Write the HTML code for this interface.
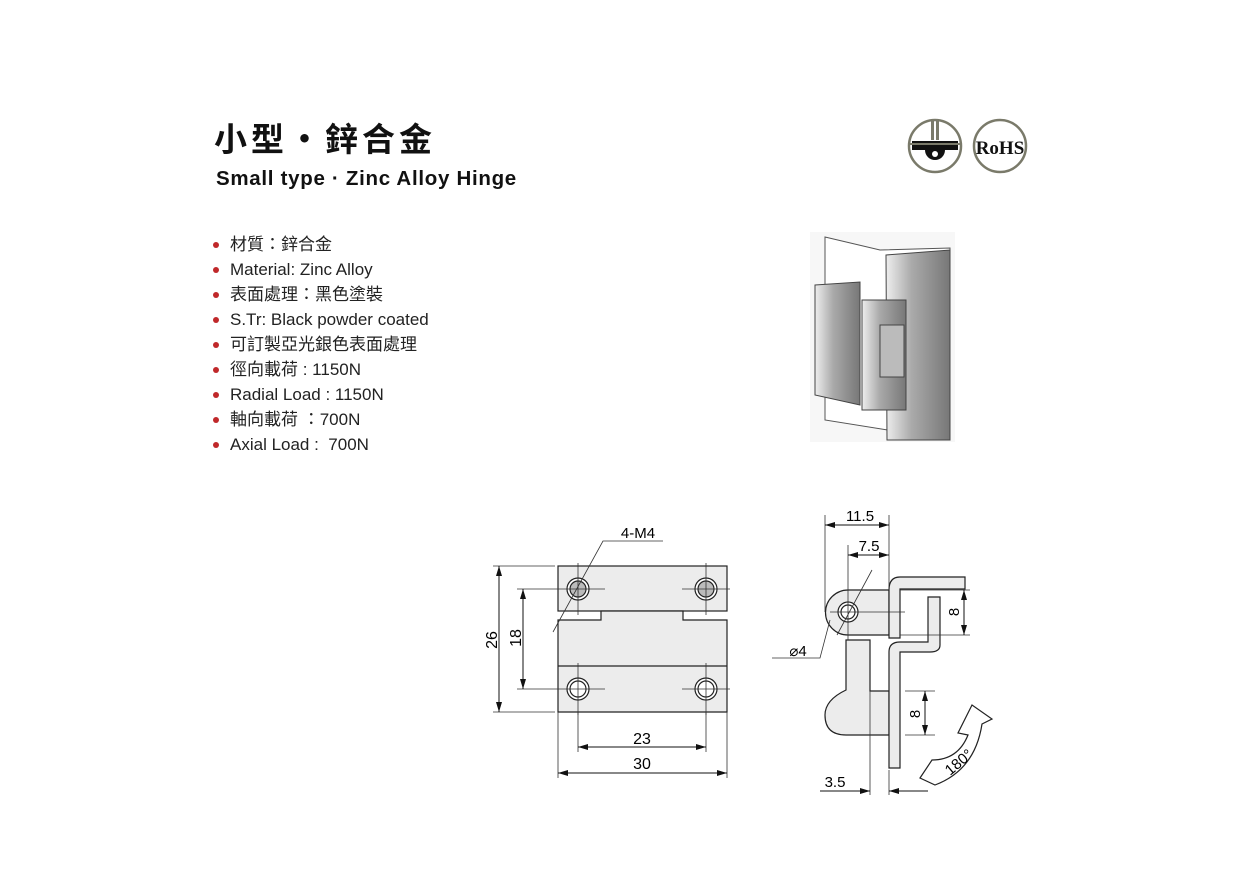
<!DOCTYPE html>
<html><head><meta charset="utf-8"><style>
body{margin:0;width:1241px;height:878px;background:#fff;position:relative;overflow:hidden;font-family:"Liberation Sans","Noto Sans CJK TC",sans-serif;}
.t1{position:absolute;left:214px;top:113px;font-size:33px;font-weight:bold;color:#111;letter-spacing:4px}
.t2{position:absolute;left:216px;top:167px;font-size:20.5px;font-weight:bold;color:#111;letter-spacing:0.7px}
ul{position:absolute;left:212px;top:232px;margin:0;padding:0;list-style:none;font-size:17px;color:#222}
li{height:25px;line-height:25px;padding-left:18px;position:relative}
li:before{content:"";position:absolute;left:1px;top:10px;width:6px;height:6px;border-radius:50%;background:#c0282a}
</style></head><body>
<div class="t1">小型・鋅合金</div>
<div class="t2">Small type · Zinc Alloy Hinge</div>
<ul>
<li>材質：鋅合金</li><li>Material: Zinc Alloy</li><li>表面處理：黑色塗裝</li><li>S.Tr: Black powder coated</li><li>可訂製亞光銀色表面處理</li><li>徑向載荷 : 1150N</li><li>Radial Load : 1150N</li><li>軸向載荷 ：700N</li><li>Axial Load :&nbsp; 700N</li>
</ul>
<svg width="1241" height="878" style="position:absolute;left:0;top:0" font-family="Liberation Sans, sans-serif">
<defs><marker id="a" viewBox="0 0 10 6" refX="10" refY="3" markerWidth="10" markerHeight="6" orient="auto-start-reverse"><path d="M0,0L10,3L0,6z" fill="#111"/></marker>
<linearGradient id="g" x1="0" x2="1"><stop offset="0" stop-color="#eee"/><stop offset=".4" stop-color="#aaa"/><stop offset="1" stop-color="#777"/></linearGradient></defs>
<circle cx="935" cy="146" r="26" fill="#fff" stroke="#7a7a6a" stroke-width="2.5"/>
<rect x="931" y="120" width="3" height="20" fill="#7a7a6a"/><rect x="936" y="120" width="3" height="20" fill="#7a7a6a"/>
<rect x="912" y="141" width="46" height="9" fill="#111"/><path d="M925,150 a10,10 0 0 0 20,0z" fill="#111"/><circle cx="935" cy="154" r="3" fill="#fff"/>
<line x1="909" y1="144" x2="961" y2="144" stroke="#7a7a6a" stroke-width="2"/>
<circle cx="1000" cy="146" r="26" fill="#fff" stroke="#7a7a6a" stroke-width="2.5"/>
<text x="1000" y="154" font-family="Liberation Serif,serif" font-weight="bold" font-size="19" text-anchor="middle" fill="#111">RoHS</text>
<rect x="810" y="232" width="145" height="210" fill="#f7f7f7"/>
<path d="M825,237 L880,250 L950,248 L950,440 L825,420 Z" fill="#fff" stroke="#555"/>
<path d="M886,255 L950,250 L950,440 L887,440 Z" fill="url(#g)" stroke="#444"/>
<path d="M815,285 L860,282 L860,405 L815,395 Z" fill="url(#g)" stroke="#444"/>
<path d="M862,300 L906,300 L906,410 L862,410 Z" fill="url(#g)" stroke="#444"/>
<rect x="880" y="325" width="24" height="52" fill="#bbb" stroke="#444"/>
<g stroke="#222" stroke-width="1.2" fill="#ececec">
<rect x="558" y="566" width="169" height="45"/>
<path d="M558,620 L601,620 L601,611 L683,611 L683,620 L727,620 L727,712 L558,712 Z"/>
<line x1="558" y1="666" x2="727" y2="666"/>
</g>
<g fill="#fff" stroke="#222" stroke-width="1.2">
<circle cx="578" cy="589" r="11"/><circle cx="578" cy="589" r="8" fill="#bbb"/>
<circle cx="706" cy="589" r="11"/><circle cx="706" cy="589" r="8" fill="#bbb"/>
<circle cx="578" cy="689" r="11"/><circle cx="578" cy="689" r="8"/>
<circle cx="706" cy="689" r="11"/><circle cx="706" cy="689" r="8"/>
</g>
<g stroke="#333" stroke-width="0.8" fill="none">
<path d="M578,563V615M560,589H605M706,563V615M682,589H730M578,663V715M560,689H605M706,663V715M682,689H730"/>
<path d="M493,566H555M493,712H555M517,589H560M517,689H560M578,712V752M706,712V752M558,712V778M727,712V778"/>
<path d="M663,541H603L553,632"/>
</g>
<g stroke="#111" stroke-width="1" marker-start="url(#a)" marker-end="url(#a)">
<line x1="499" y1="566" x2="499" y2="712"/><line x1="523" y1="589" x2="523" y2="689"/>
<line x1="578" y1="747" x2="706" y2="747"/><line x1="558" y1="773" x2="727" y2="773"/>
</g>
<text x="638" y="538" font-size="15" text-anchor="middle">4-M4</text>
<text x="642" y="744" font-size="16" text-anchor="middle">23</text>
<text x="642" y="769" font-size="16" text-anchor="middle">30</text>
<text transform="translate(497,640) rotate(-90)" font-size="16" text-anchor="middle">26</text>
<text transform="translate(521,638) rotate(-90)" font-size="16" text-anchor="middle">18</text>
<g stroke="#222" stroke-width="1.2" fill="#ececec">
<path d="M848,590 L889,590 L889,635 L848,635 A22,22 0 0 1 848,590Z"/>
<path d="M846,640 L870,640 L870,691 L889,691 L889,735 L846,735 Q825,735 825,715 Q825,700 846,690Z"/>
<path d="M889,638 L889,590 Q889,577 900,577 L965,577 L965,589 L900,589 L900,638Z"/>
<path d="M928,597 L940,597 L940,645 Q940,652 930,652 L900,652 L900,768 L889,768 L889,652 Q889,642 900,642 L928,642Z"/>
<circle cx="848" cy="612" r="10" fill="#fff"/><circle cx="848" cy="612" r="7" fill="#fff"/>
</g>
<g stroke="#333" stroke-width="0.8" fill="none">
<path d="M825,515V612M889,515V590M848,545V640M830,612H905M870,691V795M889,770V795M900,590H970M900,635H970M905,691H935M905,735H935M830,620L820,658H772M837,635L872,570"/>
</g>
<g stroke="#111" stroke-width="1" marker-start="url(#a)" marker-end="url(#a)">
<line x1="825" y1="525" x2="889" y2="525"/><line x1="848" y1="555" x2="889" y2="555"/>
<line x1="964" y1="590" x2="964" y2="635"/><line x1="925" y1="691" x2="925" y2="735"/>
</g>
<g stroke="#111" stroke-width="1" marker-end="url(#a)"><line x1="820" y1="791" x2="870" y2="791"/><line x1="928" y1="791" x2="889" y2="791"/></g>
<text x="860" y="521" font-size="15" text-anchor="middle">11.5</text>
<text x="869" y="551" font-size="15" text-anchor="middle">7.5</text>
<text x="798" y="656" font-size="15" text-anchor="middle">⌀4</text>
<text x="835" y="787" font-size="15" text-anchor="middle">3.5</text>
<text transform="translate(959,612) rotate(-90)" font-size="15" text-anchor="middle">8</text>
<text transform="translate(920,714) rotate(-90)" font-size="15" text-anchor="middle">8</text>
<path d="M920,778 L932,760 Q958,760 968,735 L958,733 L972,705 L992,719 L982,724 Q975,770 935,785 Z" fill="#fff" stroke="#222" stroke-width="1.2"/>
<text transform="translate(962,766) rotate(-40)" font-size="15" text-anchor="middle">180°</text>
</svg>
</body></html>
